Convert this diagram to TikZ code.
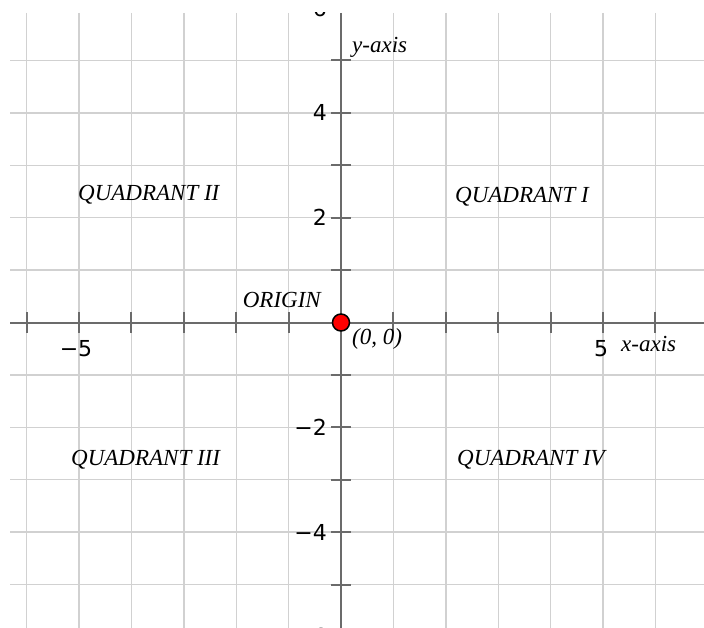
\documentclass[tikz,border=0pt]{standalone}
\usepackage{fontspec}
\setmainfont{Liberation Serif}
\newfontfamily\numfont{DejaVu Sans}
\begin{document}
\begin{tikzpicture}[x=1pt,y=-1pt,
  gridline/.style={draw=black!18,line width=1.4pt},
  axisline/.style={draw=black!58,line width=2pt},
  tickmark/.style={draw=black!58,line width=2pt},
  numlabel/.style={font=\numfont\fontsize{22}{26}\selectfont,inner sep=0pt},
  txtlabel/.style={font=\itshape\fontsize{23}{27}\selectfont,inner sep=0pt},
  origindot/.style={circle,fill=red,draw=black,line width=1.5pt,minimum size=17pt,inner sep=0pt}]
\useasboundingbox (0,0) rectangle (704,628);
\def\ox{341}\def\oy{322.5}\def\u{52.4}
\begin{scope}
\clip (10,13) rectangle (704,628);
% grid
\foreach \k in {-6,...,7} {
  \draw[gridline] ({\ox+\k*\u},13) -- ({\ox+\k*\u},628);
}
\foreach \k in {-6,...,6} {
  \draw[gridline] (10,{\oy+\k*\u}) -- (704,{\oy+\k*\u});
}
% axes
\draw[axisline] (10,\oy) -- (704,\oy);
\draw[axisline] (\ox,13) -- (\ox,628);
% ticks
\foreach \k in {-6,...,-1,1,2,...,6} {
  \draw[tickmark] ({\ox+\k*\u},{\oy-10}) -- ({\ox+\k*\u},{\oy+10});
  \draw[tickmark] ({\ox-10},{\oy+\k*\u}) -- ({\ox+10},{\oy+\k*\u});
}
% y labels
\foreach \k/\t in {-6/6,-4/4,-2/2,2/−2,4/−4,6/−6} {
  \node[numlabel,anchor=east] (ylab\k) at (327,{\oy+\k*\u}) {\t};
}
\end{scope}
% x labels
\node[numlabel] (xlabm5) at (76,349) {−5};
\node[numlabel] (xlab5) at (601,349) {5};
% text labels
\node[txtlabel,anchor=west] (yaxis) at (352,47) {y-axis};
\node[txtlabel,anchor=west] (xaxis) at (621,344) {x-axis};
\node[txtlabel,anchor=west] (q2) at (78,195) {QUADRANT II};
\node[txtlabel,anchor=west] (q1) at (455,197) {QUADRANT I};
\node[txtlabel,anchor=west] (q3) at (71,460) {QUADRANT III};
\node[txtlabel,anchor=west] (q4) at (457,460) {QUADRANT IV};
\node[txtlabel,anchor=east] (origin) at (321,300) {ORIGIN};
\node[txtlabel,anchor=west] (zero) at (352,339) {(0, 0)};
\node[origindot] (dot) at (\ox,\oy) {};
\end{tikzpicture}
\end{document}
